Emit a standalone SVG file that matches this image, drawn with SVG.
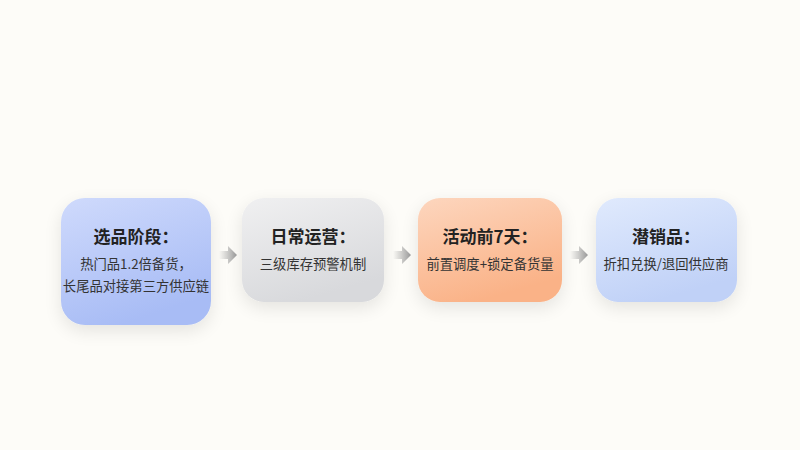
<svg xmlns="http://www.w3.org/2000/svg" width="800" height="450" viewBox="0 0 800 450">
<defs>
<linearGradient id="g1" x1="0" y1="0" x2="0.4" y2="1"><stop offset="0" stop-color="#cfdafc"/><stop offset="1" stop-color="#a8bcf5"/></linearGradient>
<linearGradient id="g2" x1="0" y1="0" x2="0.4" y2="1"><stop offset="0" stop-color="#f0f0f1"/><stop offset="1" stop-color="#d8d9dc"/></linearGradient>
<linearGradient id="g3" x1="0" y1="0" x2="0.4" y2="1"><stop offset="0" stop-color="#fdd6be"/><stop offset="1" stop-color="#fab287"/></linearGradient>
<linearGradient id="g4" x1="0" y1="0" x2="0.4" y2="1"><stop offset="0" stop-color="#e0eafd"/><stop offset="1" stop-color="#c0d1f7"/></linearGradient>
<linearGradient id="ga" x1="0" y1="0" x2="1" y2="0"><stop offset="0" stop-color="#9a9a9a" stop-opacity="0"/><stop offset="1" stop-color="#9a9a9a"/></linearGradient>
<filter id="sh" x="-30%" y="-30%" width="160%" height="170%"><feGaussianBlur in="SourceAlpha" stdDeviation="9"/><feOffset dy="6"/><feComponentTransfer><feFuncA type="linear" slope="0.1"/></feComponentTransfer><feMerge><feMergeNode/><feMergeNode in="SourceGraphic"/></feMerge></filter>
<polygon id="arr" points="0,-4 9,-4 9,-9 18,0 9,9 9,4 0,4"/>
</defs>
<style>
.t{font-family:"Noto Sans CJK SC","Noto Sans",sans-serif;font-size:17px;font-weight:bold;fill:#222;text-anchor:middle}
.s{font-family:"Noto Sans CJK SC","Noto Sans",sans-serif;font-size:13.3px;fill:#333;text-anchor:middle}
</style>
<rect width="800" height="450" fill="#fdfcf8"/>
<g id="connectors" fill="url(#ga)">
<use href="#arr" x="219" y="255"/>
<use href="#arr" x="393" y="255"/>
<use href="#arr" x="570" y="255"/>
</g>
<g id="node1">
<rect x="61" y="198" width="150" height="127" rx="24" fill="url(#g1)" filter="url(#sh)"/>
<text class="t" x="136" y="243">选品阶段：</text>
<text class="s" x="136" y="269">热门品1.2倍备货，</text>
<text class="s" x="136" y="291">长尾品对接第三方供应链</text>
</g>
<g id="node2">
<rect x="242" y="198" width="142" height="104" rx="22" fill="url(#g2)" filter="url(#sh)"/>
<text class="t" x="313" y="243">日常运营：</text>
<text class="s" x="313" y="269">三级库存预警机制</text>
</g>
<g id="node3">
<rect x="418" y="198" width="144" height="104" rx="22" fill="url(#g3)" filter="url(#sh)"/>
<text class="t" x="490" y="243">活动前7天：</text>
<text class="s" x="490" y="269">前置调度+锁定备货量</text>
</g>
<g id="node4">
<rect x="596" y="198" width="141" height="104" rx="22" fill="url(#g4)" filter="url(#sh)"/>
<text class="t" x="666" y="243">潜销品：</text>
<text class="s" x="666" y="269">折扣兑换/退回供应商</text>
</g>
</svg>
